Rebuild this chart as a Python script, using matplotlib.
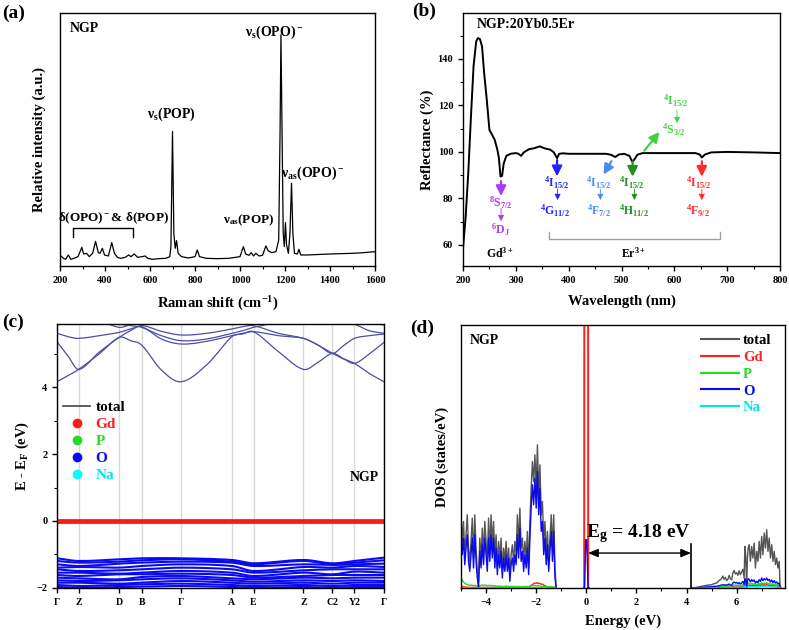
import numpy as np
import matplotlib
matplotlib.use('Agg')
import matplotlib.pyplot as plt
from matplotlib.lines import Line2D
from matplotlib.ticker import MultipleLocator

plt.rcParams.update({
    'font.family': ['Liberation Serif', 'DejaVu Serif'],
    'font.weight': 'bold',
    'axes.labelweight': 'bold',
    'mathtext.fontset': 'custom',
    'mathtext.rm': 'Liberation Serif:bold',
    'mathtext.bf': 'Liberation Serif:bold',
    'mathtext.it': 'Liberation Serif:italic:bold',
    'mathtext.default': 'rm',
    'axes.linewidth': 1.0,
    'xtick.direction': 'out',
    'ytick.direction': 'out',
    'xtick.labelsize': 7.5,
    'ytick.labelsize': 7.5,
})

# ---------------- (a) Raman data ----------------
RAMAN_X = [200, 215, 225, 237, 248, 262, 280, 297, 305, 318, 330, 345, 358, 370, 378, 388, 398, 415,
           430, 442, 455, 470, 490, 505, 515, 530, 545, 565, 578, 590, 610, 640, 670, 688, 693, 700,
           706, 712, 718, 725, 740, 770, 800, 810, 820, 850, 900, 950, 1000, 1015, 1025, 1040, 1050,
           1060, 1070, 1085, 1100, 1115, 1125, 1140, 1160, 1172, 1178, 1182, 1187, 1192, 1197, 1202,
           1207, 1215, 1222, 1229, 1235, 1242, 1255, 1262, 1270, 1300, 1400, 1500, 1550, 1600]
RAMAN_Y = [33, 23, 20, 33, 20, 23, 28, 56, 36, 38, 28, 38, 74, 40, 38, 53, 33, 30,
           70, 38, 26, 23, 26, 33, 28, 36, 26, 28, 30, 23, 20, 22, 23, 28, 58, 403,
           98, 53, 76, 38, 28, 24, 28, 48, 28, 23, 22, 23, 28, 58, 36, 32, 40,
           30, 38, 30, 32, 60, 46, 40, 43, 78, 398, 693, 398, 98, 58, 130,
           63, 38, 98, 248, 98, 38, 36, 50, 33, 33, 36, 38, 40, 43]

# ---------------- (b) reflectance data ----------------
REFL_X = [200, 205, 210, 215, 220, 225, 228, 232, 236, 240, 245, 250, 255, 260, 265, 268, 271, 274,
          277, 282, 290, 300, 305, 310, 315, 325, 335, 345, 355, 365, 372, 378, 382, 390, 400, 420,
          450, 470, 480, 488, 495, 505, 515, 520, 524, 530, 540, 560, 600, 640, 648, 652, 658, 670,
          700, 750, 800]
REFL_Y = [58.5, 72, 91, 115, 137, 147.6, 149, 148.6, 145.5, 134, 122.5, 109.5, 107.4, 105.2, 101,
          97.3, 89.4, 89.7, 95, 98.3, 99.2, 99.5, 99.2, 98.3, 99.8, 101.2, 101.6, 102.4, 101.5, 101,
          99.8, 97.3, 99.2, 99.4, 99.2, 99.2, 99.2, 99.2, 98.8, 97.8, 98.9, 99.2, 98.3, 95.9, 96.6,
          98.8, 99.5, 99.5, 99.5, 99.5, 98.9, 97.6, 98.9, 99.8, 100, 99.8, 99.5]

# ---------------- (c) band structure ----------------
K_LABELS = ['\u0393', 'Z', 'D', 'B', '\u0393', 'A', 'E', 'Z', 'C2', 'Y2', '\u0393']
K_POS = [0, 21.7, 62.3, 84.7, 124.3, 175.0, 196.7, 246.7, 275.7, 297.7, 327.3]
# conduction bands sampled at high-symmetry points and segment midpoints (21 values)
CB_LINES = [
    [4.17, 4.35, 4.54, 5.00, 5.50, 5.40, 5.27, 4.52, 4.17, 4.67, 5.52, 5.60, 5.67, 5.07, 4.54, 4.75, 5.02, 4.86, 4.72, 4.42, 4.17],
    [5.37, 4.95, 4.54, 5.05, 5.50, 5.70, 5.85, 5.68, 5.57, 5.62, 5.75, 5.82, 5.85, 5.62, 5.47, 5.27, 5.02, 5.25, 5.47, 5.55, 5.60],
    [5.62, 5.52, 5.47, 5.55, 5.65, 5.75, 5.82, 5.45, 5.30, 5.38, 5.55, 5.62, 5.67, 5.55, 5.47, 5.27, 5.02, 4.86, 4.72, 5.00, 5.35],
    [5.87, 5.95, 6.05, 6.05, 5.90, 5.85, 5.80, 5.55, 5.40, 5.45, 5.62, 5.70, 5.80, 5.95, 6.05, 6.10, 6.10, 6.00, 5.90, 5.70, 5.62],
    [6.10, 6.10, 6.10, 6.00, 5.80, 5.88, 5.95, 6.00, 6.00, 5.95, 5.88, 5.90, 5.92, 6.10, 6.20, 6.20, 6.20, 6.15, 6.10, 5.95, 5.87],
]
# valence bands at the 11 high-symmetry points
VB_LINES = [
    [-1.12, -1.20, -1.15, -1.12, -1.12, -1.17, -1.27, -1.17, -1.27, -1.20, -1.10],
    [-1.20, -1.25, -1.22, -1.18, -1.15, -1.22, -1.30, -1.20, -1.30, -1.25, -1.18],
    [-1.30, -1.35, -1.28, -1.25, -1.22, -1.25, -1.35, -1.30, -1.32, -1.30, -1.28],
    [-1.40, -1.38, -1.40, -1.35, -1.30, -1.35, -1.50, -1.38, -1.40, -1.35, -1.38],
    [-1.45, -1.50, -1.48, -1.45, -1.40, -1.45, -1.55, -1.48, -1.45, -1.45, -1.45],
    [-1.55, -1.55, -1.58, -1.55, -1.50, -1.55, -1.65, -1.55, -1.60, -1.52, -1.55],
    [-1.62, -1.65, -1.60, -1.60, -1.58, -1.62, -1.70, -1.65, -1.62, -1.62, -1.62],
    [-1.70, -1.72, -1.75, -1.68, -1.65, -1.72, -1.75, -1.70, -1.72, -1.70, -1.70],
    [-1.78, -1.80, -1.78, -1.75, -1.72, -1.78, -1.82, -1.78, -1.80, -1.78, -1.80],
    [-1.85, -1.85, -1.88, -1.85, -1.80, -1.85, -1.88, -1.85, -1.88, -1.85, -1.85],
    [-1.92, -1.95, -1.92, -1.90, -1.88, -1.92, -1.95, -1.92, -1.95, -1.92, -1.92],
    [-1.98, -2.00, -1.98, -1.97, -1.95, -1.98, -2.00, -1.98, -2.00, -1.98, -1.98],
]
GD_BAND = [0.03, 0.0, -0.03]

# ---------------- (d) DOS ----------------
E_VB = [-5.00, -4.95, -4.90, -4.85, -4.80, -4.75, -4.70, -4.65, -4.60, -4.55,
        -4.50, -4.45, -4.40, -4.35, -4.30, -4.25, -4.20, -4.15, -4.10, -4.05,
        -4.00, -3.95, -3.90, -3.85, -3.80, -3.75, -3.70, -3.65, -3.60, -3.55,
        -3.50, -3.45, -3.40, -3.35, -3.30, -3.25, -3.20, -3.15, -3.10, -3.05,
        -3.00, -2.95, -2.90, -2.85, -2.80, -2.75, -2.70, -2.65, -2.60, -2.55,
        -2.50, -2.45, -2.40, -2.35, -2.30, -2.25, -2.20, -2.15, -2.10, -2.05,
        -2.00, -1.95, -1.90, -1.85, -1.80, -1.75, -1.70, -1.65, -1.60, -1.55,
        -1.50, -1.45, -1.40, -1.35, -1.30, -1.25, -1.20]
TOT_VB = [22, 14, 20, 10, 16, 22, 12, 8, 14, 21,
          9, 22, 12, 5, 2, 15, 9, 18, 10, 20,
          14, 8, 21, 11, 22, 13, 20, 9, 16, 6,
          14, 9, 15, 5, 12, 8, 14, 7, 12, 4,
          10, 13, 8, 14, 10, 22, 13, 24, 12, 15,
          8, 14, 9, 17, 6, 20, 30, 38, 32, 40,
          30, 43, 28, 37, 22, 26, 14, 20, 10, 17,
          8, 15, 22, 12, 22, 6, 0]
O_VB = [17, 10, 15, 7, 12, 16, 8, 5, 10, 15,
        6, 16, 8, 3, 0, 11, 6, 13, 7, 15,
        10, 5, 15, 8, 16, 9, 15, 6, 12, 4,
        10, 6, 11, 3, 9, 5, 10, 5, 9, 2,
        7, 9, 5, 10, 7, 16, 9, 18, 8, 11,
        5, 10, 6, 12, 4, 15, 24, 31, 25, 33,
        24, 35, 22, 30, 17, 20, 10, 15, 7, 13,
        5, 11, 17, 8, 17, 3, 0]
P_VB = [3.0, 2.4, 1.8, 1.4, 1.2, 1.0, 0.9, 0.8, 0.9, 0.8,
        0.7, 0.8, 0.7, 0.6, 0.3, 0.7, 0.8, 0.9, 0.8, 0.9,
        0.8, 0.7, 0.8, 0.7, 0.8, 0.7, 0.6, 0.7, 0.6, 0.5,
        0.6, 0.5, 0.6, 0.4, 0.5, 0.5, 0.6, 0.5, 0.5, 0.4,
        0.5, 0.5, 0.4, 0.5, 0.4, 0.5, 0.4, 0.5, 0.4, 0.4,
        0.4, 0.5, 0.4, 0.5, 0.4, 0.5, 0.6, 0.7, 0.6, 0.7,
        0.6, 0.7, 0.6, 0.6, 0.5, 0.5, 0.4, 0.5, 0.4, 0.4,
        0.3, 0.4, 0.4, 0.3, 0.3, 0.2, 0.0]
GD_VB = [0.6, 0.5, 0.4, 0.3, 0.3, 0.2, 0.2, 0.2, 0.2, 0.2,
         0.2, 0.2, 0.2, 0.2, 0.1, 0.2, 0.2, 0.2, 0.2, 0.2,
         0.2, 0.2, 0.2, 0.2, 0.2, 0.2, 0.2, 0.2, 0.2, 0.2,
         0.2, 0.2, 0.2, 0.1, 0.2, 0.2, 0.2, 0.2, 0.2, 0.1,
         0.2, 0.2, 0.2, 0.2, 0.2, 0.2, 0.2, 0.2, 0.2, 0.2,
         0.3, 0.3, 0.3, 0.4, 0.4, 0.5, 0.8, 1.0, 1.3, 1.5,
         1.4, 1.6, 1.3, 1.4, 1.1, 1.2, 0.9, 0.7, 0.5, 0.4,
         0.3, 0.3, 0.2, 0.2, 0.2, 0.1, 0.0]
NA_VB = [0.3, 0.2, 0.2, 0.1, 0.1, 0.1, 0.1, 0.1, 0.1, 0.1,
         0.1, 0.1, 0.1, 0.1, 0.0, 0.1, 0.1, 0.1, 0.1, 0.1,
         0.1, 0.1, 0.1, 0.1, 0.1, 0.1, 0.1, 0.1, 0.1, 0.1,
         0.1, 0.1, 0.1, 0.1, 0.1, 0.1, 0.1, 0.1, 0.1, 0.1,
         0.1, 0.1, 0.1, 0.1, 0.1, 0.1, 0.1, 0.1, 0.1, 0.1,
         0.1, 0.1, 0.1, 0.1, 0.1, 0.1, 0.1, 0.1, 0.1, 0.1,
         0.1, 0.1, 0.1, 0.1, 0.1, 0.1, 0.1, 0.1, 0.1, 0.1,
         0.1, 0.1, 0.1, 0.1, 0.1, 0.0, 0.0]

E_FERMI = [-0.10, -0.08, -0.07, -0.02, 0.0, 0.02, 0.07, 0.08, 0.10]
TOT_FERMI = [0, 0, 200, 200, 200, 200, 200, 0, 0]
GD_FERMI = [0, 0, 200, 200, 200, 200, 200, 0, 0]
O_FERMI = [0, 0, 0, 14.5, 14.5, 14.5, 0, 0, 0]

E_CB = [4.18, 4.4, 4.6, 4.8, 5.0, 5.1, 5.2, 5.3, 5.4, 5.45, 5.5, 5.55, 5.6, 5.65, 5.7, 5.75, 5.8,
        5.85, 5.9, 5.95, 6.0, 6.05, 6.1, 6.15, 6.2, 6.25, 6.3, 6.33, 6.36, 6.4, 6.43, 6.46, 6.5,
        6.55, 6.6, 6.65, 6.7, 6.75, 6.8, 6.85, 6.9, 6.95, 7.0, 7.05, 7.1, 7.15, 7.2, 7.25, 7.3,
        7.35, 7.4, 7.45, 7.5, 7.55, 7.6, 7.65, 7.7, 7.73, 7.76]
TOT_CB = [0, 0.2, 0.5, 0.8, 1.0, 1.3, 1.5, 2.2, 2.8, 3.6, 2.6, 3.2, 2.2, 2.6, 3.8, 2.8, 2.4, 4.5,
          5.3, 4.2, 4.6, 3.8, 5.2, 4.0, 4.8, 5.6, 3.0, 12.5, 10, 0.5, 9, 12, 13, 8, 12.5, 9, 13.5,
          6, 11, 8, 14, 9, 15.5, 10, 16.5, 12, 17.5, 11, 15, 9, 13, 8, 11, 7, 9, 6, 8, 1, 0]
O_CB = [0, 0.1, 0.2, 0.3, 0.4, 0.5, 0.5, 0.7, 0.9, 1.0, 0.8, 1.0, 0.8, 1.0, 1.2, 0.9, 0.8, 1.5,
        1.8, 1.5, 1.7, 1.3, 1.6, 1.2, 1.5, 2.0, 1.0, 2.8, 2.5, 0.2, 2.0, 2.8, 2.6, 1.8, 2.5, 2.0,
        2.4, 1.5, 2.0, 1.6, 2.5, 2.0, 3.0, 2.2, 2.8, 2.4, 3.0, 2.2, 2.6, 1.8, 2.4, 1.6, 2.2, 1.5,
        1.8, 1.2, 1.5, 0.3, 0]
P_CB = [0, 0, 0.1, 0.2, 0.2, 0.3, 0.3, 0.4, 0.5, 0.6, 0.5, 0.6, 0.5, 0.6, 0.7, 0.6, 0.5, 0.8,
        0.9, 0.8, 0.9, 0.7, 0.9, 0.7, 0.8, 1.0, 0.6, 1.5, 1.3, 0.1, 1.2, 1.5, 1.4, 1.0, 1.4, 1.1,
        1.3, 0.9, 1.2, 1.0, 1.4, 1.1, 1.6, 1.2, 1.5, 1.3, 1.6, 1.2, 1.4, 1.0, 1.3, 0.9, 1.2, 0.9,
        1.0, 0.7, 0.9, 0.2, 0]
GD_CB = [0, 0, 0, 0.1, 0.1, 0.1, 0.1, 0.2, 0.2, 0.3, 0.2, 0.3, 0.2, 0.3, 0.3, 0.3, 0.2, 0.4,
         0.4, 0.3, 0.4, 0.3, 0.4, 0.3, 0.4, 0.5, 0.3, 0.8, 0.7, 0.1, 0.6, 0.8, 0.9, 0.6, 0.8, 0.7,
         0.9, 0.6, 0.8, 0.6, 1.0, 0.7, 1.1, 0.8, 1.0, 0.8, 1.1, 0.8, 0.9, 0.6, 0.8, 0.6, 0.7, 0.5,
         0.6, 0.4, 0.5, 0.1, 0]
NA_CB = [0, 0, 0, 0, 0.1, 0.1, 0.1, 0.1, 0.1, 0.2, 0.1, 0.2, 0.1, 0.2, 0.2, 0.2, 0.1, 0.2,
         0.3, 0.2, 0.3, 0.2, 0.3, 0.2, 0.3, 0.3, 0.2, 0.5, 0.4, 0.1, 0.4, 0.5, 0.5, 0.4, 0.5, 0.4,
         0.5, 0.3, 0.4, 0.3, 0.5, 0.4, 0.6, 0.4, 0.5, 0.4, 0.6, 0.4, 0.5, 0.3, 0.4, 0.3, 0.4, 0.3,
         0.3, 0.2, 0.3, 0.1, 0]
EG = 4.18

W, H = 789, 630


def axes_px(fig, left, top, right, bottom):
    return fig.add_axes([left / W, 1 - bottom / H, (right - left) / W, (bottom - top) / H])


def smooth_curve(x, y, n=16):
    x = np.asarray(x, float)
    y = np.asarray(y, float)
    m = np.zeros_like(y)
    m[1:-1] = (y[2:] - y[:-2]) / (x[2:] - x[:-2])
    m[0] = (y[1] - y[0]) / (x[1] - x[0])
    m[-1] = (y[-1] - y[-2]) / (x[-1] - x[-2])
    xs, ys = [], []
    for i in range(len(x) - 1):
        h = x[i + 1] - x[i]
        t = np.linspace(0, 1, n, endpoint=False)
        h00 = 2 * t**3 - 3 * t**2 + 1
        h10 = t**3 - 2 * t**2 + t
        h01 = -2 * t**3 + 3 * t**2
        h11 = t**3 - t**2
        xs.append(x[i] + t * h)
        ys.append(h00 * y[i] + h10 * h * m[i] + h01 * y[i + 1] + h11 * h * m[i + 1])
    xs.append([x[-1]])
    ys.append([y[-1]])
    return np.concatenate(xs), np.concatenate(ys)


fig = plt.figure(figsize=(W / 100, H / 100), dpi=100)

# ======================= (a) =======================
ax = axes_px(fig, 60, 13, 375, 266)
ax.plot(RAMAN_X, RAMAN_Y, color='black', lw=0.9)
ax.set_xlim(200, 1600)
ax.set_ylim(0, 758)
ax.set_yticks([])
ax.xaxis.set_major_locator(MultipleLocator(200))
ax.xaxis.set_minor_locator(MultipleLocator(100))
ax.tick_params(axis='x', which='major', length=3.5, width=1)
ax.tick_params(axis='x', which='minor', length=2, width=0.8)
ax.set_xlabel('Raman shift (cm$^{-1}$)', fontsize=10.5)
ax.xaxis.set_label_coords(0.5, -0.112)
ax.set_ylabel('Relative intensity (a.u.)', fontsize=10.5)
ax.yaxis.set_label_coords(-0.045, 0.5)
ax.text(0.03, 0.965, 'NGP', transform=ax.transAxes, fontsize=10, va='top', ha='left')
ax.text(1150, 700, '\u03bd$_s$(OPO)$^-$', fontsize=10, ha='center', va='center')
ax.text(696, 455, '\u03bd$_s$(POP)', fontsize=10, ha='center', va='center')
ax.text(1322, 278, '\u03bd$_{as}$(OPO)$^-$', fontsize=10, ha='center', va='center')
ax.text(1037, 138, '\u03bd$_{as}$(POP)', fontsize=9.5, ha='center', va='center')
ax.text(437, 143, '\u03b4(OPO)$^-$& \u03b4(POP)', fontsize=9.5, ha='center', va='center')
ax.plot([256, 256, 526, 526], [86, 113, 113, 86], color='black', lw=1)

# ======================= (b) =======================
ax = axes_px(fig, 463, 13, 780, 266)
ax.plot(REFL_X, REFL_Y, color='black', lw=1.4)
ax.set_xlim(200, 800)
ax.set_ylim(50.9, 159.8)
ax.xaxis.set_major_locator(MultipleLocator(100))
ax.xaxis.set_minor_locator(MultipleLocator(50))
ax.yaxis.set_major_locator(MultipleLocator(20))
ax.yaxis.set_minor_locator(MultipleLocator(10))
ax.tick_params(which='major', length=3.5, width=1)
ax.tick_params(which='minor', length=2, width=0.8)
ax.set_xlabel('Wavelength (nm)', fontsize=10.5)
ax.xaxis.set_label_coords(0.5, -0.112)
ax.set_ylabel('Reflectance (%)', fontsize=10.5)
ax.yaxis.set_label_coords(-0.09, 0.5)
ax.text(0.045, 0.955, 'NGP:20Yb0.5Er', transform=ax.transAxes, fontsize=10, va='center', ha='left')

PURPLE, BLUE, LBLUE, DGREEN, LGREEN, RED = '#a83cf5', '#2222ff', '#4a8af5', '#1f8f1f', '#3fd43f', '#ff2a2a'


def arrow(ax, x0, y0, x1, y1, color, lw=1.6, hw=0.3, hl=0.6):
    ax.annotate('', xy=(x1, y1), xytext=(x0, y0),
                arrowprops=dict(arrowstyle='-|>,head_width=%g,head_length=%g' % (hw, hl),
                                color=color, lw=lw, shrinkA=0, shrinkB=0))


fs_t = 8.5
# Gd
arrow(ax, 272, 87.5, 272, 81.0, PURPLE)
ax.text(271, 78.3, '$^8$S$_{7/2}$', color=PURPLE, fontsize=fs_t, ha='center', va='center')
arrow(ax, 272, 75.8, 272, 70.2, PURPLE, lw=0.6, hw=0.18, hl=0.35)
ax.text(271, 66.4, '$^6$D$_J$', color=PURPLE, fontsize=fs_t, ha='center', va='center')
ax.text(270, 56.4, 'Gd$^{3+}$', color='black', fontsize=fs_t, ha='center', va='center')
# Er blue
arrow(ax, 378, 96.5, 378, 89.5, BLUE)
ax.text(377, 86.6, '$^4$I$_{15/2}$', color=BLUE, fontsize=fs_t, ha='center', va='center')
arrow(ax, 379, 84.0, 379, 79.3, BLUE, lw=0.6, hw=0.18, hl=0.35)
ax.text(375, 74.8, '$^4$G$_{11/2}$', color=BLUE, fontsize=fs_t, ha='center', va='center')
# light blue
arrow(ax, 481, 96.0, 466, 90.3, LBLUE)
ax.text(457, 86.6, '$^4$I$_{15/2}$', color=LBLUE, fontsize=fs_t, ha='center', va='center')
arrow(ax, 460, 84.0, 460, 79.3, LBLUE, lw=0.6, hw=0.18, hl=0.35)
ax.text(457, 74.8, '$^4$F$_{7/2}$', color=LBLUE, fontsize=fs_t, ha='center', va='center')
# dark green
arrow(ax, 521, 96.0, 521, 89.3, DGREEN)
ax.text(520, 86.6, '$^4$I$_{15/2}$', color=DGREEN, fontsize=fs_t, ha='center', va='center')
arrow(ax, 524.5, 84.0, 524.5, 79.3, DGREEN, lw=0.6, hw=0.18, hl=0.35)
ax.text(523, 74.8, '$^4$H$_{11/2}$', color=DGREEN, fontsize=fs_t, ha='center', va='center')
# bright green
arrow(ax, 543, 100.5, 572, 108.6, LGREEN)
ax.text(603, 121.8, '$^4$I$_{15/2}$', color=LGREEN, fontsize=fs_t, ha='center', va='center')
arrow(ax, 605, 118.0, 605, 112.4, LGREEN, lw=0.6, hw=0.18, hl=0.35)
ax.text(598, 109.6, '$^4$S$_{3/2}$', color=LGREEN, fontsize=fs_t, ha='center', va='center')
# red
arrow(ax, 652, 96.0, 652, 89.3, RED)
ax.text(646, 86.6, '$^4$I$_{15/2}$', color=RED, fontsize=fs_t, ha='center', va='center')
arrow(ax, 652, 84.0, 652, 79.3, RED, lw=0.6, hw=0.18, hl=0.35)
ax.text(644, 74.8, '$^4$F$_{9/2}$', color=RED, fontsize=fs_t, ha='center', va='center')
# Er bracket
ax.plot([362, 362, 686, 686], [65.5, 62.4, 62.4, 65.5], color='#a0a0a0', lw=1)
ax.text(523, 56.4, 'Er$^{3+}$', color='black', fontsize=fs_t, ha='center', va='center')

# ======================= (c) =======================
ax = axes_px(fig, 57, 324, 384, 588)
for kx in K_POS:
    ax.axvline(kx, color='#d9d9d9', lw=1.0, zorder=0)
k_full = []
for i in range(len(K_POS) - 1):
    k_full.append(K_POS[i])
    k_full.append(0.5 * (K_POS[i] + K_POS[i + 1]))
k_full.append(K_POS[-1])
for band in CB_LINES:
    xs, ys = smooth_curve(k_full, band)
    ax.plot(xs, ys, color='#4d4da6', lw=0.9)
for band in VB_LINES:
    xs, ys = smooth_curve(K_POS, band)
    ax.plot(xs, ys, color='#0a0af0', lw=1.5, solid_capstyle='butt')
for e in GD_BAND:
    ax.plot([K_POS[0], K_POS[-1]], [e, e], color='#ff1a1a', lw=2.0)
ax.set_xlim(K_POS[0], K_POS[-1])
ax.set_ylim(-2.01, 5.90)
ax.set_xticks(K_POS)
ax.set_xticklabels(K_LABELS, fontsize=7)
ax.yaxis.set_major_locator(MultipleLocator(2))
ax.yaxis.set_minor_locator(MultipleLocator(1))
ax.tick_params(which='major', length=3.5, width=1)
ax.tick_params(which='minor', length=2, width=0.8)
ax.set_ylabel('E - E$_F$ (eV)', fontsize=10.5)
ax.yaxis.set_label_coords(-0.08, 0.5)
ax.text(0.985, 0.42, 'NGP', transform=ax.transAxes, fontsize=10, ha='right', va='center')
handles = [Line2D([], [], color='#444444', lw=1.2),
           Line2D([], [], color='#ff1a1a', marker='o', ls='none', ms=6),
           Line2D([], [], color='#22dd22', marker='o', ls='none', ms=6),
           Line2D([], [], color='#0a0af0', marker='o', ls='none', ms=6),
           Line2D([], [], color='#00ffff', marker='o', ls='none', ms=6)]
ax.legend(handles, ['total', 'Gd', 'P', 'O', 'Na'], loc='upper left', bbox_to_anchor=(-0.01, 0.745),
          frameon=False, fontsize=11, labelcolor=['black', '#ff1a1a', '#22dd22', '#0a0af0', '#00e5ee'],
          handlelength=1.8, labelspacing=0.22, handletextpad=0.35, borderaxespad=0.2)

# ======================= (d) =======================
ax = axes_px(fig, 461, 325, 785, 588)
ax.plot(E_VB, TOT_VB, color='#555555', lw=1.0)
ax.plot(E_FERMI, TOT_FERMI, color='#555555', lw=1.0)
ax.plot(E_CB, TOT_CB, color='#555555', lw=1.0)
ax.plot(E_FERMI, GD_FERMI, color='#ff2020', lw=1.3)
ax.plot(E_VB, GD_VB, color='#ff2020', lw=1.0)
ax.plot(E_CB, GD_CB, color='#ff2020', lw=1.0)
ax.plot(E_VB, P_VB, color='#1fdd1f', lw=1.0)
ax.plot(E_CB, P_CB, color='#1fdd1f', lw=1.0)
ax.plot(E_VB, O_VB, color='#0a0af0', lw=1.0)
ax.plot(E_FERMI, O_FERMI, color='#0a0af0', lw=1.0)
ax.plot(E_CB, O_CB, color='#0a0af0', lw=1.0)
ax.plot(E_VB, NA_VB, color='#00e5ee', lw=0.8)
ax.plot(E_CB, NA_CB, color='#00e5ee', lw=0.8)
ax.set_xlim(-5.0, 7.93)
ax.set_ylim(0, 79)
ax.set_yticks([])
ax.xaxis.set_major_locator(MultipleLocator(2))
ax.xaxis.set_minor_locator(MultipleLocator(1))
ax.tick_params(which='major', length=3.5, width=1)
ax.tick_params(which='minor', length=2, width=0.8)
ax.set_xlabel('Energy (eV)', fontsize=10.5)
ax.xaxis.set_label_coords(0.5, -0.1)
ax.set_ylabel('DOS (states/eV)', fontsize=10.5)
ax.yaxis.set_label_coords(-0.036, 0.5)
ax.text(0.028, 0.965, 'NGP', transform=ax.transAxes, fontsize=10, ha='left', va='top')
ax.plot([EG, EG], [0, 13.2], color='black', lw=1.2)
ax.annotate('', xy=(EG, 10.5), xytext=(0.07, 10.5),
            arrowprops=dict(arrowstyle='<|-|>,head_width=0.25,head_length=0.6', color='black',
                            lw=1.0, shrinkA=0, shrinkB=0))
ax.text(2.06, 16.3, 'E$_g$ = 4.18 eV', fontsize=14, ha='center', va='center')
dh = [Line2D([], [], color=c, lw=1.5) for c in ['#555555', '#ff2020', '#1fdd1f', '#0a0af0', '#00e5ee']]
ax.legend(dh, ['total', 'Gd', 'P', 'O', 'Na'], loc='upper right', bbox_to_anchor=(0.985, 1.0),
          frameon=False, fontsize=10.5, labelcolor=['black', '#ff2020', '#1fdd1f', '#0a0af0', '#00e5ee'],
          handlelength=2.6, labelspacing=0.25, handletextpad=0.3, borderaxespad=0.2)

# panel labels
fig.text(2 / W, 1 - 5 / H, '(a)', fontsize=14, va='top', ha='left')
fig.text(412 / W, 1 - 3 / H, '(b)', fontsize=14, va='top', ha='left')
fig.text(2 / W, 1 - 314 / H, '(c)', fontsize=14, va='top', ha='left')
fig.text(410 / W, 1 - 320 / H, '(d)', fontsize=14, va='top', ha='left')

fig.savefig('out.png', dpi=100)
